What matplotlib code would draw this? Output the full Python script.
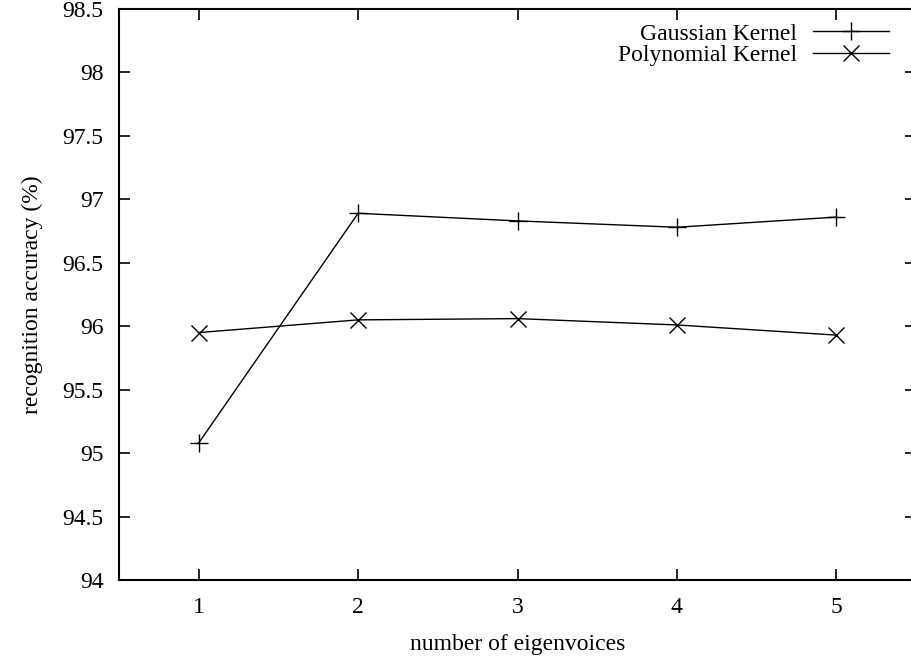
import matplotlib
matplotlib.use("Agg")
import matplotlib.pyplot as plt

# recognition accuracy vs. number of eigenvoices
eigenvoices = [1, 2, 3, 4, 5]
gaussian = [95.08, 96.89, 96.83, 96.78, 96.86]
polynomial = [95.95, 96.05, 96.06, 96.01, 95.93]

plt.rcParams["font.family"] = ["Liberation Serif", "DejaVu Serif"]
plt.rcParams["font.size"] = 17

fig = plt.figure(figsize=(9.11, 6.6), dpi=100)
W, H = 911, 660
# plot box: x 119..916 px (right border falls just off the canvas), y 9..580 px
ax = fig.add_axes([119 / W, (H - 580) / H, (916 - 119) / W, (580 - 9) / H])

ax.plot(eigenvoices, gaussian, color="black", lw=1.0, marker="+",
        markersize=13, markeredgewidth=1.0, label="Gaussian Kernel")
ax.plot(eigenvoices, polynomial, color="black", lw=1.0, marker="x",
        markersize=12, markeredgewidth=1.0, label="Polynomial Kernel")

ax.set_xlim(0.5, 5.5)
ax.set_ylim(94, 98.5)
ax.set_xticks(eigenvoices)
ax.set_yticks([94, 94.5, 95, 95.5, 96, 96.5, 97, 97.5, 98, 98.5])
ax.set_yticklabels(["94", "94.5", "95", "95.5", "96", "96.5", "97", "97.5", "98", "98.5"])

ax.tick_params(direction="in", length=8, width=1.2, top=True, right=True,
               labelsize=17)
ax.tick_params(axis="y", pad=11)
ax.tick_params(axis="x", pad=12)
for s in ax.spines.values():
    s.set_linewidth(1.5)

ax.set_xlabel("number of eigenvoices", fontsize=17, labelpad=12)
ax.set_ylabel("recognition accuracy (%)", fontsize=17, labelpad=14)

ax.legend(loc="upper right", bbox_to_anchor=(784 / (916 - 119), 1.0),
          frameon=False, markerfirst=False, handlelength=3.2,
          handletextpad=0.7, labelspacing=0.0, fontsize=17, borderaxespad=0.2)

fig.savefig("out.png", dpi=100)
